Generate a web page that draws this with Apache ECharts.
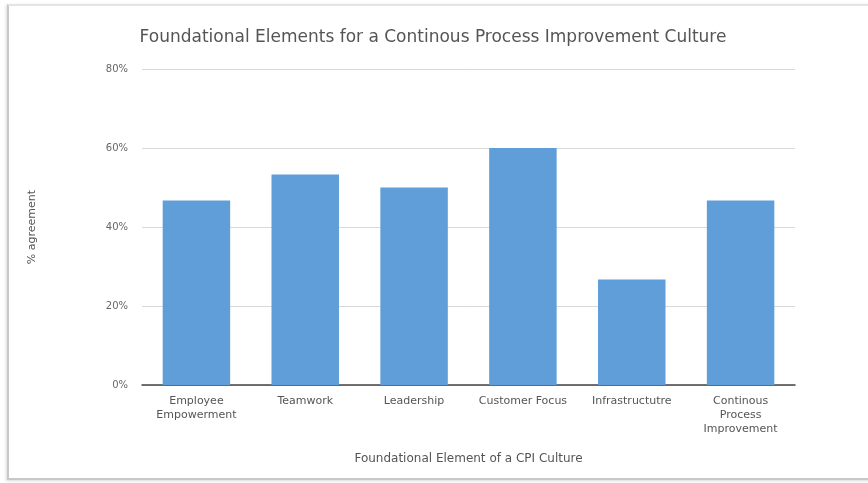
<!DOCTYPE html>
<html><head><meta charset="utf-8">
<script src="https://cdn.jsdelivr.net/npm/echarts@6/dist/echarts.min.js"></script>
<style>
html,body{margin:0;padding:0;background:#fff;width:868px;height:483px;overflow:hidden;}
#frame{position:absolute;left:7px;top:4px;width:900px;height:472px;border-left:2px solid #c8c8c8;border-top:2px solid #e4e4e4;border-bottom:2px solid #c8c8c8;box-shadow:-1px 1px 3px rgba(0,0,0,0.15);}
#c{position:absolute;left:0;top:0;width:868px;height:483px;}
</style></head>
<body>
<div id="frame"></div>
<div id="c"></div>
<script>
var categories = ["Employee\nEmpowerment","Teamwork","Leadership","Customer Focus","Infrastructutre","Continous\nProcess\nImprovement"];
var values = [46.7, 53.3, 50.0, 60.0, 26.7, 46.7];
var yTicks = [0, 20, 40, 60, 80];
var F = 'DejaVu Sans';
var chart = echarts.init(document.getElementById('c'), null, {renderer:'canvas'});
chart.setOption({
  animation:false,
  backgroundColor:'transparent',
  title:{text:'Foundational Elements for a Continous Process Improvement Culture',left:428,textAlign:'center',top:24,
    textStyle:{fontFamily:F,fontSize:17,fontWeight:'normal',color:'#555'}},
  grid:{left:142,right:73,top:69,bottom:98},
  xAxis:{type:'category',data:categories,
    axisLine:{lineStyle:{color:'#444',width:1.5}},axisTick:{show:false},
    axisLabel:{interval:0,fontFamily:F,fontSize:11,color:'#555',lineHeight:14,margin:9},
    name:'Foundational Element of a CPI Culture',nameLocation:'middle',nameGap:68,
    nameTextStyle:{fontFamily:F,fontSize:12,color:'#555'}},
  yAxis:{type:'value',min:yTicks[0],max:yTicks[yTicks.length-1],interval:20,
    axisLabel:{formatter:'{value}%',fontFamily:F,fontSize:10,color:'#666',margin:14},
    axisLine:{show:false},axisTick:{show:false},
    splitLine:{lineStyle:{color:'#d9d9d9'}},
    name:'% agreement',nameLocation:'middle',nameGap:104,
    nameTextStyle:{fontFamily:F,fontSize:11,color:'#555'}},
  series:[{type:'bar',data:values,barWidth:'62%',itemStyle:{color:'#5f9ed8'}}]
});
</script>
</body></html>
